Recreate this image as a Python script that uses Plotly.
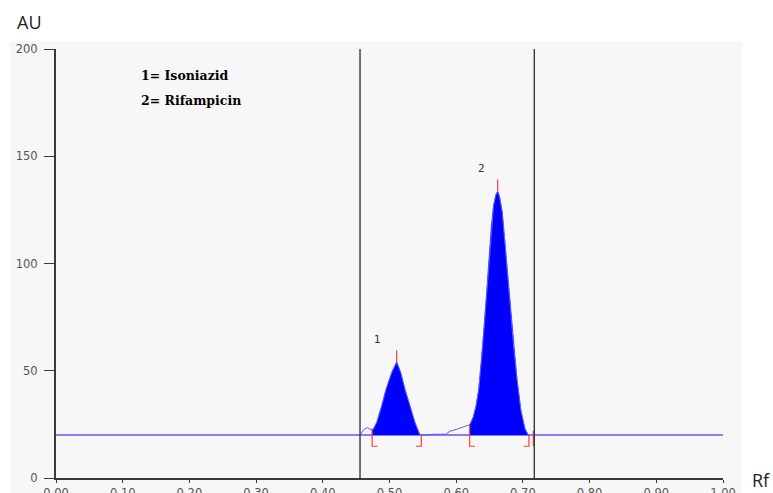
import plotly.graph_objects as go

# ---- data ----
rf = [0.4558, 0.4618, 0.4673, 0.4708, 0.4757, 0.4808, 0.4883, 0.4948, 0.5033, 0.5108,
      0.5168, 0.5232, 0.5307, 0.5382, 0.5457, 0.5672, 0.5847, 0.5907, 0.6007, 0.6106,
      0.6181, 0.6207, 0.6257, 0.6297, 0.6337, 0.6380, 0.6420, 0.6457, 0.6490, 0.6525,
      0.6560, 0.6595, 0.6622, 0.6650, 0.6690, 0.6735, 0.6775, 0.6815, 0.6860, 0.6912,
      0.6970, 0.7030, 0.7081]
au = [19.9, 22.7, 23.5, 22.7, 22.7, 25.8, 33.6, 41.3, 49.1, 54.1,
      49.1, 41.3, 33.6, 25.8, 19.9, 20.4, 20.4, 21.8, 22.7, 23.6,
      24.6, 25.0, 28.5, 33.5, 41.0, 55.0, 71.0, 87.0, 102.0, 117.0,
      127.0, 132.0, 133.7, 131.0, 124.0, 108.1, 92.6, 77.2, 61.5, 46.0,
      31.5, 23.0, 19.9]
baseline_au = 20.0
baseline_rf = [0.0, 1.0]

peak_names = ["1", "2"]
peak_start = [0.4740, 0.6202]
peak_end = [0.5477, 0.7091]
apex_rf = [0.5108, 0.6622]
apex_au = [54.1, 133.7]
label_rf = [0.4813, 0.6372]
label_au = [64.6, 144.3]
track_limits = [0.4558, 0.7171]
extra_mark_rf = [0.7156]
legend_lines = ["1= Isoniazid", "2= Rifampicin"]
legend_au = [187.6, 176.0]

x_ticks = [0.0, 0.1, 0.2, 0.3, 0.4, 0.5, 0.6, 0.7, 0.8, 0.9, 1.0]
y_ticks = [0, 50, 100, 150, 200]

BLUE_FILL = "#0000ff"
BLUE_LINE = "#5a5aff"
RED = "#ff3b3b"
AXIS = "#3a3a3a"

W, H = 773, 493
L, R, T, B = 56, 50, 49, 15
pw, ph = W - L - R, H - T - B


def px_x(px):  # pixel -> paper x
    return (px - L) / pw


def px_y(py):  # pixel -> paper y
    return (H - B - py) / ph


fig = go.Figure()

# baseline
fig.add_trace(go.Scatter(x=baseline_rf, y=[baseline_au, baseline_au], mode="lines",
                         line=dict(color=BLUE_LINE, width=1.5), hoverinfo="skip"))


def interp(x):
    for i in range(len(rf) - 1):
        if rf[i] <= x <= rf[i + 1]:
            t = (x - rf[i]) / (rf[i + 1] - rf[i])
            return au[i] + t * (au[i + 1] - au[i])
    return baseline_au


# filled peaks
for s, e in zip(peak_start, peak_end):
    xs = [s, s] + [x for x in rf if s < x < e] + [e, e]
    ys = [baseline_au, interp(s)] + [y for x, y in zip(rf, au) if s < x < e] + [interp(e), baseline_au]
    fig.add_trace(go.Scatter(x=xs, y=ys, mode="lines", fill="toself",
                             fillcolor=BLUE_FILL, line=dict(color=BLUE_FILL, width=0.5),
                             hoverinfo="skip"))

# densitogram curve
fig.add_trace(go.Scatter(x=rf, y=au, mode="lines",
                         line=dict(color=BLUE_LINE, width=1), hoverinfo="skip"))

# red apex marks
for x, y in zip(apex_rf, apex_au):
    fig.add_trace(go.Scatter(x=[x, x], y=[y, y + 5.5], mode="lines",
                             line=dict(color=RED, width=1.2), hoverinfo="skip"))

# red integration brackets
bot = 14.8
hl = 0.008
for s, e in zip(peak_start, peak_end):
    fig.add_trace(go.Scatter(x=[s, s, s + hl], y=[interp(s), bot, bot], mode="lines",
                             line=dict(color=RED, width=1.2), hoverinfo="skip"))
    fig.add_trace(go.Scatter(x=[e - hl, e, e], y=[bot, bot, baseline_au], mode="lines",
                             line=dict(color=RED, width=1.2), hoverinfo="skip"))
for x in extra_mark_rf:
    fig.add_trace(go.Scatter(x=[x, x], y=[22.0, bot], mode="lines",
                             line=dict(color=RED, width=1.2), hoverinfo="skip"))

# track limit lines
for x in track_limits:
    fig.add_shape(type="line", x0=x, x1=x, y0=0, y1=200, xref="x", yref="y",
                  line=dict(color=AXIS, width=1.4), layer="above")

# light grey panel
fig.add_shape(type="rect", xref="paper", yref="paper", x0=px_x(10), x1=px_x(742),
              y0=px_y(500), y1=px_y(41), fillcolor="#f7f7f7", line=dict(width=0),
              layer="below")

annotations = []
for n, x, y in zip(peak_names, label_rf, label_au):
    annotations.append(dict(x=x, y=y, xref="x", yref="y", text=n, showarrow=False,
                            xanchor="center", yanchor="middle",
                            font=dict(family="DejaVu Sans", size=10.5, color="#333")))
for t, y in zip(legend_lines, legend_au):
    annotations.append(dict(x=0.125, y=y, xref="x", yref="y", text="<b>" + t + "</b>",
                            showarrow=False, xanchor="left", yanchor="middle",
                            font=dict(family="DejaVu Serif", size=12.5, color="#000")))
annotations.append(dict(x=px_x(15), y=px_y(22), xref="paper", yref="paper",
                        text="AU", showarrow=False, xanchor="left", yanchor="middle",
                        font=dict(family="Open Sans", size=18, color="#222")))
annotations.append(dict(x=px_x(750), y=px_y(480), xref="paper", yref="paper",
                        text="Rf", showarrow=False, xanchor="left", yanchor="middle",
                        font=dict(family="Open Sans", size=18, color="#222")))

fig.update_layout(
    width=W, height=H,
    margin=dict(l=L, r=R, t=T, b=B, autoexpand=False),
    paper_bgcolor="white", plot_bgcolor="#f7f7f7",
    showlegend=False,
    annotations=annotations,
    xaxis=dict(range=[0, 1], tickvals=x_ticks, tickformat=".2f", showgrid=False,
               zeroline=False, showline=True, linecolor=AXIS, linewidth=2,
               ticks="outside", ticklen=3, tickcolor=AXIS, tickwidth=1,
               tickfont=dict(family="DejaVu Sans", size=11.5, color="#555"),
               automargin=False),
    yaxis=dict(range=[0, 200], tickvals=y_ticks, showgrid=False, zeroline=False,
               showline=True, linecolor=AXIS, linewidth=2,
               ticks="outside", ticklen=10, tickcolor=AXIS, tickwidth=1,
               ticklabelstandoff=4,
               tickfont=dict(family="DejaVu Sans", size=11.5, color="#555"),
               automargin=False),
)

fig.write_html("out.html", config={"displayModeBar": False},
               post_script="document.body.style.margin='0';document.body.style.overflow='hidden';")
